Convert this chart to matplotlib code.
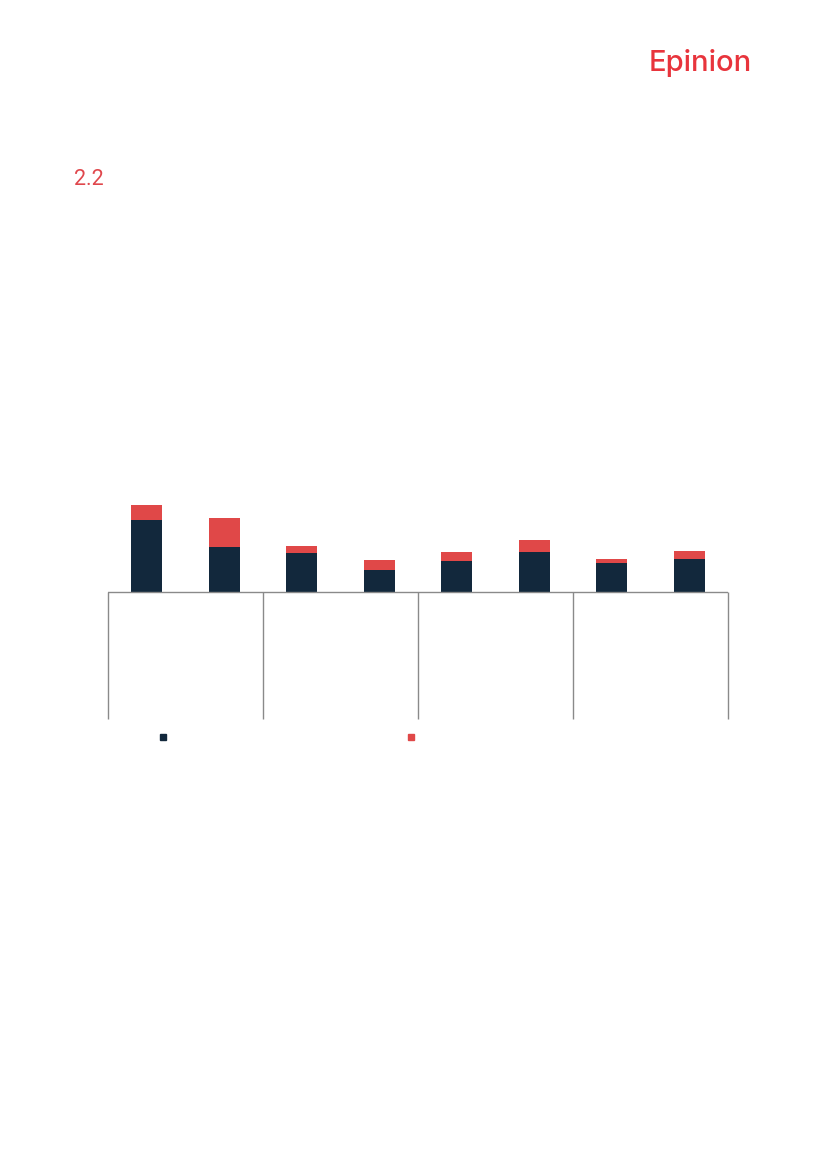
import matplotlib
matplotlib.use('Agg')
import matplotlib.pyplot as plt
from matplotlib.patches import Rectangle

# Data (bar heights, arbitrary units)
groups = ['', '', '', '']
bars_per_group = 2
navy_values = [72, 45, 39, 22, 31, 40, 29, 33]
red_values = [15, 29, 7, 10, 9, 12, 4, 8]

navy = '#12283c'
red = '#e04848'
line_grey = '#8a8a8a'

W, H = 827, 1169
fig = plt.figure(figsize=(W / 100, H / 100), dpi=100)
fig.patch.set_facecolor('white')

# logo and section number
fig.text(752 / W, 1 - 63 / H, 'Epinion', color='#e8343c', fontsize=21,
         family='Inter', fontweight='medium', ha='right', va='center')
fig.text(74 / W, 1 - 180 / H, '2.2', color='#e0474c', fontsize=15.5,
         family='Roboto', ha='left', va='center')

# chart axes: x 108..728 px, y from 719 (bottom) to 492 (top), baseline at 592
left, right = 108, 728
top, bottom = 492, 719
base = 592
ax = fig.add_axes([left / W, 1 - bottom / H, (right - left) / W, (bottom - top) / H])
ax.set_xlim(0, len(groups) * bars_per_group)
ax.set_ylim(-(bottom - base), base - top)
ax.axis('off')

xs = [i + 0.5 for i in range(len(navy_values))]
ax.bar(xs, navy_values, width=0.4, color=navy, zorder=2)
ax.bar(xs, red_values, width=0.4, bottom=navy_values, color=red, zorder=2)

ax.axhline(0, color=line_grey, lw=1, zorder=3)
for g in range(len(groups) + 1):
    ax.plot([g * bars_per_group] * 2, [0, -(bottom - base)], color=line_grey, lw=1,
            solid_capstyle='butt', clip_on=False)

# legend markers (labels not rendered in the reference)
for cx, col in [(163, navy), (411, red)]:
    fig.add_artist(Rectangle(((cx - 3) / W, 1 - (737 + 3) / H), 6 / W, 6 / H,
                             transform=fig.transFigure, color=col))

fig.savefig('out.png', dpi=100, facecolor='white')
